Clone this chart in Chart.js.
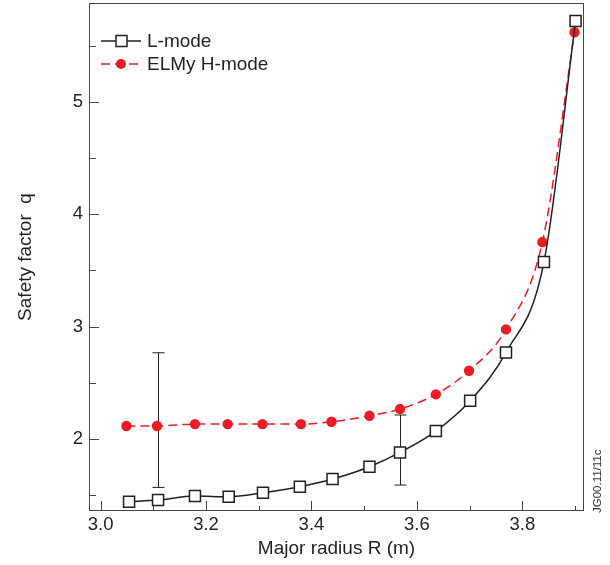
<!DOCTYPE html>
<html>
<head>
<meta charset="utf-8">
<script src="https://cdn.jsdelivr.net/npm/chart.js@4/dist/chart.umd.min.js"></script>
<style>
  html, body { margin: 0; padding: 0; background: #fff; }
  canvas { display: block; }
</style>
</head>
<body>
<canvas id="qChart" width="610" height="565"></canvas>
<script>
// data
const lModeR = [3.054, 3.109, 3.179, 3.243, 3.308, 3.378, 3.440, 3.510, 3.568, 3.636, 3.701, 3.769, 3.841, 3.901];
const lModeQ = [1.442, 1.457, 1.493, 1.487, 1.522, 1.576, 1.644, 1.754, 1.881, 2.071, 2.341, 2.771, 3.575, 5.72];
const hModeR = [3.049, 3.107, 3.179, 3.241, 3.307, 3.380, 3.438, 3.510, 3.568, 3.636, 3.699, 3.769, 3.838, 3.899];
const hModeQ = [2.116, 2.116, 2.133, 2.133, 2.133, 2.133, 2.154, 2.207, 2.267, 2.398, 2.608, 2.976, 3.753, 5.62];

// error bars
const errR = [3.109, 3.568];
const errLow = [1.570, 1.591];
const errHigh = [2.768, 2.214];

// axis ticks
const xTickValues = [3.0, 3.1, 3.2, 3.3, 3.4, 3.5, 3.6, 3.7, 3.8, 3.9];
const xTickLabels = ["3.0", "", "3.2", "", "3.4", "", "3.6", "", "3.8", ""];
const yTickValues = [1.5, 2, 2.5, 3, 3.5, 4, 4.5, 5, 5.5];
const yTickLabels = ["", "2", "", "3", "", "4", "", "5", ""];

const INK = "#231f20";
const RED = "#ed1c24";
const FONT = "'Liberation Sans', Arial, sans-serif";

const toPoints = (xs, ys) => xs.map((x, i) => ({ x, y: ys[i] }));

// frame, inward ticks, error bars, legend, side code
const decorations = {
  id: "decorations",
  beforeDatasetsDraw(chart) {
    const { ctx, scales: { x, y } } = chart;
    ctx.save();
    ctx.strokeStyle = INK;
    ctx.lineWidth = 1;
    errR.forEach((r, i) => {
      const px = Math.round(x.getPixelForValue(r)) + 0.5;
      const top = y.getPixelForValue(errHigh[i]);
      const bot = y.getPixelForValue(errLow[i]);
      ctx.beginPath();
      ctx.moveTo(px, top); ctx.lineTo(px, bot);
      ctx.moveTo(px - 6, top); ctx.lineTo(px + 6, top);
      ctx.moveTo(px - 6, bot); ctx.lineTo(px + 6, bot);
      ctx.stroke();
    });
    ctx.restore();
  },
  afterDatasetsDraw(chart) {
    const { ctx, chartArea: a, scales: { x, y } } = chart;
    ctx.save();
    ctx.strokeStyle = "#444";
    ctx.lineWidth = 1;
    ctx.strokeRect(a.left + 0.5, a.top + 0.5, a.right - a.left - 1, a.bottom - a.top - 1);

    ctx.beginPath();
    xTickValues.forEach((v, i) => {
      const px = Math.round(x.getPixelForValue(v)) + 0.5;
      const len = xTickLabels[i] ? 10 : 5;
      ctx.moveTo(px, a.bottom); ctx.lineTo(px, a.bottom - len);
    });
    yTickValues.forEach((v, i) => {
      const py = Math.round(y.getPixelForValue(v)) + 0.5;
      const len = yTickLabels[i] ? 10 : 7;
      ctx.moveTo(a.left, py); ctx.lineTo(a.left + len, py);
    });
    ctx.stroke();

    // legend
    chart.data.datasets.forEach((ds, i) => {
      const ly = 41 + i * 23;
      ctx.strokeStyle = ds.borderColor;
      ctx.lineWidth = 1.5;
      ctx.setLineDash(ds.borderDash || []);
      ctx.beginPath();
      ctx.moveTo(101, ly); ctx.lineTo(141, ly);
      ctx.stroke();
      ctx.setLineDash([]);
      ctx.fillStyle = ds.pointBackgroundColor;
      ctx.strokeStyle = ds.pointBorderColor;
      if (ds.pointStyle === "rect") {
        ctx.fillRect(116, ly - 5.5, 11, 11);
        ctx.strokeRect(116, ly - 5.5, 11, 11);
      } else {
        ctx.beginPath();
        ctx.arc(121, ly, 5, 0, Math.PI * 2);
        ctx.fill();
      }
      ctx.fillStyle = INK;
      ctx.font = "19px " + FONT;
      ctx.textBaseline = "middle";
      ctx.fillText(ds.label, 147, ly + 1);
    });

    // figure code on the right
    ctx.translate(598, 513);
    ctx.rotate(-Math.PI / 2);
    ctx.fillStyle = "#333";
    ctx.font = "11.5px " + FONT;
    ctx.textBaseline = "middle";
    ctx.fillText("JG00.11/11c", 0, 0);
    ctx.restore();
  }
};

new Chart(document.getElementById("qChart"), {
  type: "line",
  data: {
    datasets: [
      {
        label: "L-mode",
        data: toPoints(lModeR, lModeQ),
        borderColor: INK,
        borderWidth: 1.5,
        pointStyle: "rect",
        pointRadius: 7.8,
        pointBackgroundColor: "#fff",
        pointBorderColor: INK,
        pointBorderWidth: 1.5,
        cubicInterpolationMode: "monotone"
      },
      {
        label: "ELMy H-mode",
        data: toPoints(hModeR, hModeQ),
        borderColor: RED,
        borderWidth: 1.5,
        borderDash: [9, 5],
        pointStyle: "circle",
        pointRadius: 5.2,
        pointBackgroundColor: RED,
        pointBorderColor: RED,
        pointBorderWidth: 0,
        cubicInterpolationMode: "monotone"
      }
    ]
  },
  options: {
    responsive: false,
    animation: false,
    events: [],
    layout: { autoPadding: false, padding: { top: 3, right: 26, left: 0, bottom: 0 } },
    plugins: { legend: { display: false }, tooltip: { enabled: false } },
    scales: {
      x: {
        type: "linear",
        min: 2.978,
        max: 3.917,
        afterBuildTicks: s => { s.ticks = xTickValues.map(v => ({ value: v })); },
        afterFit: s => { s.height = 54; s.paddingLeft = 0; s.paddingRight = 0; },
        grid: { display: false, drawTicks: false },
        border: { display: false },
        ticks: {
          autoSkip: false,
          maxRotation: 0,
          padding: 3,
          color: INK,
          font: { size: 18.5, family: FONT },
          callback: (v, i) => xTickLabels[i]
        },
        title: {
          display: true,
          text: "Major radius R (m)",
          color: INK,
          font: { size: 19, family: FONT },
          padding: { top: 0, bottom: 5 }
        }
      },
      y: {
        type: "linear",
        min: 1.36,
        max: 5.88,
        afterBuildTicks: s => { s.ticks = yTickValues.map(v => ({ value: v })); },
        afterFit: s => { s.width = 89; s.paddingTop = 0; s.paddingBottom = 0; },
        grid: { display: false, drawTicks: false },
        border: { display: false },
        ticks: {
          autoSkip: false,
          padding: 6,
          color: INK,
          font: { size: 18.5, family: FONT },
          callback: (v, i) => yTickLabels[i]
        },
        title: {
          display: true,
          text: "Safety factor  q",
          color: INK,
          font: { size: 19, family: FONT },
          padding: { top: 14, bottom: 0 }
        }
      }
    }
  },
  plugins: [decorations]
});
</script>
</body>
</html>
